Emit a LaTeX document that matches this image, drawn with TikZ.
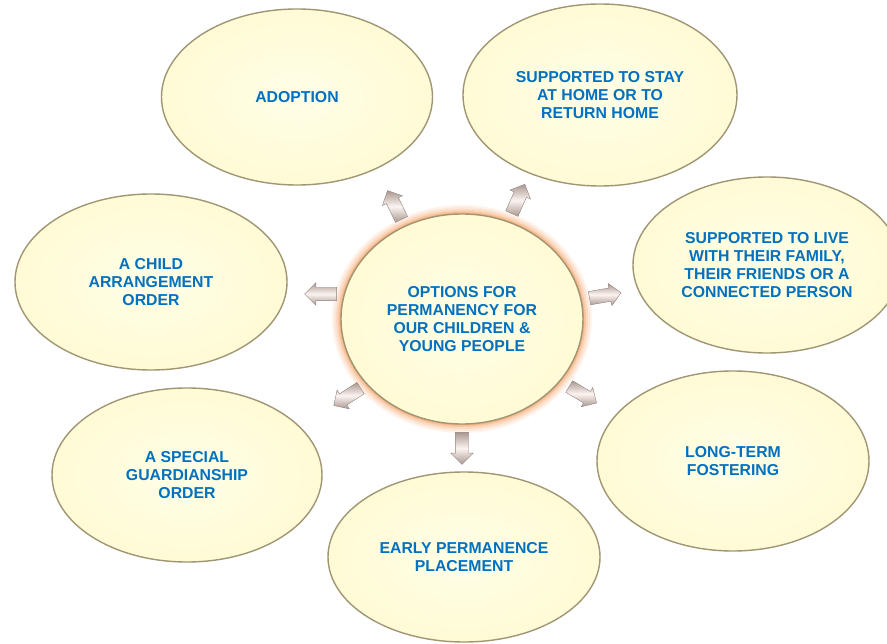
\documentclass[tikz,border=0pt]{standalone}
\usepackage{fontspec}
\setmainfont{Liberation Sans}
\usepackage{xcolor}
\usetikzlibrary{shapes.geometric,shapes.arrows}

\definecolor{optblue}{RGB}{0,112,192}
\definecolor{ellin}{RGB}{255,254,230}
\definecolor{ellout}{RGB}{255,251,214}
\definecolor{ellrim}{RGB}{160,150,115}
\definecolor{glow}{RGB}{245,160,100}
\definecolor{arrlight}{RGB}{252,244,240}
\definecolor{arrdark}{RGB}{170,152,146}
\definecolor{arrrim}{RGB}{145,130,125}

\begin{document}
\begin{tikzpicture}[x=1pt,y=-1pt,
	option/.style={ellipse,inner sep=0pt,inner color=ellin,outer color=ellout,
		draw=ellrim,line width=1.4pt,text=optblue,align=center,
		font=\fontsize{15.8}{18}\selectfont\bfseries},
	permarrow/.style={single arrow,draw=arrrim,thin,inner xsep=0pt,inner ysep=6.5pt,
		minimum height=32pt,single arrow head extend=4.5pt,
		shading=axis,top color=arrdark,bottom color=arrdark,middle color=arrlight}]
	\useasboundingbox (0,0) rectangle (887,644);
	\fill[white] (0,0) rectangle (887,644);
	
	% outer options
	\node[option,minimum width=271pt,minimum height=176pt] (adoption) at (297,97) {ADOPTION};
	\node[option,minimum width=274pt,minimum height=182pt] (stayhome) at (600,95)
		{SUPPORTED TO STAY\\AT HOME OR TO\\RETURN HOME};
	\node[option,minimum width=268pt,minimum height=176pt] (livefamily) at (767,265)
		{SUPPORTED TO LIVE\\WITH THEIR FAMILY,\\THEIR FRIENDS OR A\\CONNECTED PERSON};
	\node[option,minimum width=272pt,minimum height=176pt] (childorder) at (151,282)
		{A CHILD\\ARRANGEMENT\\ORDER};
	\node[option,minimum width=270pt,minimum height=174pt] (guardian) at (187,475)
		{A SPECIAL\\GUARDIANSHIP\\ORDER};
	\node[option,minimum width=272pt,minimum height=180pt] (fostering) at (733,461)
		{LONG-TERM\\FOSTERING};
	\node[option,minimum width=272pt,minimum height=170pt] (earlyperm) at (464,557)
		{EARLY PERMANENCE\\PLACEMENT};
	
	% glow round the centre
	\foreach \w/\c in {18/12,14/25,10/40,6/60,3/80}
		\draw[glow!\c,line width=\w pt] (462,319) ellipse (121pt and 105pt);
	\node[option,minimum width=242pt,minimum height=210pt] (hub) at (462,319)
		{OPTIONS FOR\\PERMANENCY FOR\\OUR CHILDREN \&\\YOUNG PEOPLE};
	
	% arrows
	\foreach \n/\x/\y/\a in {1/396/208/116,2/517/202/66,3/602/296/10,4/580/393/-31,
		5/462/445/-90,6/350/395/213,7/324/294/180}
		\node[permarrow,rotate=\a] (arr\n) at (\x,\y) {};
\end{tikzpicture}
\end{document}
